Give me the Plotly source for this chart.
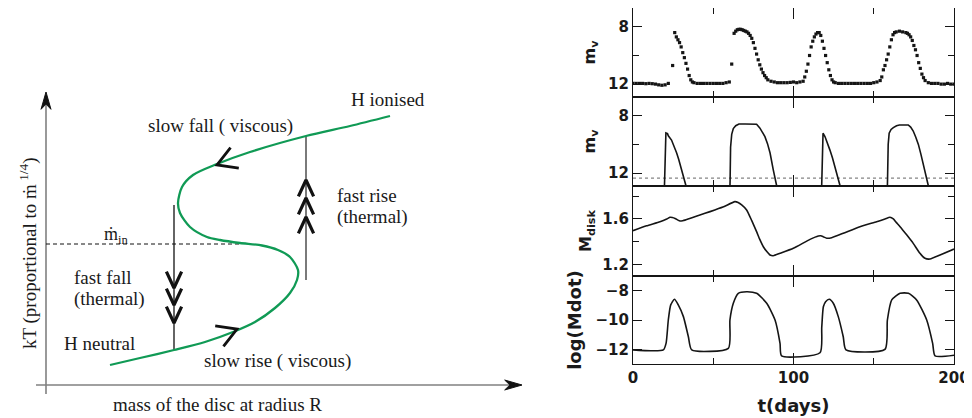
import math
import plotly.graph_objects as go

# ---------------- left schematic (units: arbitrary) ----------------
s_mass = [64, 94, 128, 159, 187, 209, 229, 244, 251, 252, 244, 232, 216, 194, 174, 161,
          144, 134, 132, 136, 147, 171, 204, 260, 304, 344]
s_kT = [20, 27, 35, 43, 53, 63, 77, 92, 105, 115, 128, 135, 139.5, 142, 145, 148,
        158, 172, 182, 198, 210, 221, 233, 249, 259, 269]

min_level_kT = 141
min_line_mass = [0, 194]
fall_mass = 128
fall_kT = [35, 180]
rise_mass = 260
rise_kT = [105, 249]
fall_chevron_kT = [97, 80, 62]
rise_chevron_kT = [205, 187, 168]
# arrows on the S-curve: tip (mass, kT) and pointing direction (deg)
curve_arrow_mass = [171, 191]
curve_arrow_kT = [220, 56]
curve_arrow_dir = [202, 22]
# schematic axes
xaxis_line_mass = [-10, 470]
yaxis_line_kT = [-9, 282]
xaxis_tip_mass = 476
yaxis_tip_kT = 293

# ---------------- right panels: t in days ----------------
obs_t = [0, 2, 4, 6, 8, 10, 12, 14, 16, 18, 20, 22, 24.7, 26, 27, 28, 29, 30, 31, 32, 33, 34,
         35, 36, 37, 38, 40, 42, 44, 46, 48, 50, 52, 54, 56, 58, 60, 61.5, 63, 64, 65, 66,
         67, 68, 69, 70, 71, 72, 73, 74, 75, 76, 77, 78, 79, 80, 81, 82, 83, 84, 86, 88,
         90, 92, 94, 96, 98, 100, 102, 104, 106, 107, 108, 109, 110, 111, 112, 113, 114,
         115, 116, 117, 118, 119, 120, 121, 122, 123, 124, 125, 126, 128, 130, 132, 134,
         136, 138, 140, 142, 144, 146, 148, 150, 152, 154, 155, 156, 157, 158, 159, 160,
         161, 162, 163, 164, 166, 168, 170, 171, 172, 173, 174, 175, 176, 177, 178, 179,
         180, 181, 182, 184, 186, 188, 190, 192, 194, 196, 198, 200]
obs_mv = [11.95, 11.95, 11.95, 11.95, 11.97, 11.95, 11.97, 12.0, 12.05, 12.08, 12.05, 11.95,
          10.7, 8.4, 8.7, 8.9, 9.1, 9.4, 9.8, 10.15, 10.55, 10.95, 11.4, 11.7, 11.85, 11.9,
          11.95, 11.95, 11.95, 11.95, 11.95, 11.95, 11.95, 11.95, 11.95, 11.9, 11.85, 10.6,
          8.45, 8.3, 8.2, 8.17, 8.17, 8.2, 8.25, 8.3, 8.35, 8.45, 8.6, 8.8, 9.1, 9.5, 9.9,
          10.3, 10.65, 10.95, 11.2, 11.4, 11.55, 11.7, 11.8, 11.85, 11.9, 11.9, 11.9, 11.9,
          11.88, 11.85, 11.9, 11.85, 11.8, 11.5, 11.1, 10.6, 10.0, 9.4, 9.0, 8.7, 8.5,
          8.4, 8.4, 8.6, 9.0, 9.5, 10.0, 10.5, 11.0, 11.4, 11.7, 11.85, 11.9, 11.95, 11.95,
          11.95, 11.95, 11.95, 11.95, 11.95, 11.95, 11.95, 11.95, 11.95, 11.9, 11.85,
          11.75, 11.5, 11.0, 10.7, 10.3, 9.9, 9.4, 8.9, 8.55, 8.4, 8.35, 8.3, 8.35, 8.4,
          8.45, 8.55, 8.7, 8.95, 9.3, 9.6, 10.0, 10.5, 10.9, 11.3, 11.55, 11.75, 11.9,
          11.95, 11.95, 11.95, 12.0, 12.0, 11.95, 12.0, 12.0]

model_t = [0, 19.3, 19.7, 20.0, 20.5, 21.5, 22, 24, 26, 27.2, 28.5, 30.3, 31.5, 33, 34,
           60.2, 60.5, 60.8, 61.5, 62.5, 64, 66, 70, 74, 77, 79, 80.5, 82.2, 83.8, 85.4,
           87.4, 89.5, 90.5,
           117.3, 117.7, 118.0, 118.4, 119.6, 121, 122.7, 124.3, 125.9, 127.5, 129, 130,
           158.3, 158.6, 159.0, 159.6, 160.8, 162.2, 164.2, 166, 171.5, 173, 174.6, 176.2,
           177.8, 179.4, 180.9, 182.5, 184, 185, 200]
model_mv = [14, 14, 12.5, 10.0, 9.2, 9.25, 9.4, 9.7, 10.2, 10.6, 11.05, 11.77, 12.25, 12.88, 14,
            14, 12.5, 10.2, 9.3, 8.9, 8.7, 8.58, 8.58, 8.58, 8.6, 8.85, 9.1, 9.46, 9.95, 10.6,
            11.77, 12.88, 14,
            14, 12.3, 10.0, 9.22, 9.45, 9.85, 10.4, 10.95, 11.55, 12.2, 12.88, 14,
            14, 12.4, 10.0, 9.22, 8.96, 8.83, 8.7, 8.65, 8.65, 8.8, 9.07, 9.5,
            10.0, 10.7, 11.4, 12.1, 12.88, 14, 14]
model_dotted_mv = 12.35

disk_t = [0, 8.5, 16.8, 21, 23.1, 24.5, 26.2, 28, 29.3, 31, 32.4, 41.7, 48, 56, 63.5, 65.5,
          67.7, 70.8, 74, 77, 79, 81.2, 83.5, 85.4, 87.4, 91.6, 99.9, 110.3, 115.5, 117,
          118.5, 120.7, 123.8, 131, 141.4, 151.8, 157, 160.1, 162.2, 164, 166.4, 170.5,
          174.6, 178.8, 181.9, 185.1, 191.3, 200]
disk_M = [1.497, 1.54, 1.576, 1.60, 1.615, 1.613, 1.605, 1.59, 1.582, 1.585, 1.59, 1.635,
          1.665, 1.705, 1.753, 1.745, 1.724, 1.68, 1.585, 1.488, 1.42, 1.355, 1.31, 1.282,
          1.276, 1.297, 1.341, 1.42, 1.45, 1.452, 1.444, 1.43, 1.435, 1.474, 1.532, 1.576,
          1.60, 1.615, 1.60, 1.57, 1.532, 1.46, 1.385, 1.297, 1.253, 1.247, 1.282, 1.335]

mdot_t = [0, 18.9, 20.6, 22, 23.5, 25.8, 28.2, 31.4, 34.5, 36.6, 59.4, 60.4, 62.5, 65.6,
          70.8, 77, 83.3, 88.5, 91.6, 92.6, 116.5, 117.6, 118.6, 120, 122.3, 124.8, 127.9,
          131, 132.7, 157, 158.5, 161.2, 166.4, 171.6, 176.7, 183, 186.7, 188.2, 200]
mdot_log = [-12.04, -12.04, -11.59, -10.0, -8.97, -8.59, -8.97, -9.77, -11.14, -12.04,
            -11.93, -10.0, -8.86, -8.18, -8.07, -8.18, -8.86, -10.0, -11.59, -12.45, -12.23,
            -10.5, -9.1, -8.75, -8.59, -8.86, -9.77, -11.14, -12.04, -12.0, -10.0, -8.63,
            -8.18, -8.18, -8.63, -10.0, -11.59, -12.45, -12.4]

t_ticks = [0, 100, 200]
t_minor = [50, 150]

# the page body has an 8 px margin, so the figure is 8 px smaller and offset by 8 px
OFF = 8
W, H = 972 - OFF, 418 - OFF
SERIF = dict(family="Liberation Serif", size=19, color="#1a1a1a")
SANS = "DejaVu Sans"
INK = "#151515"


def fx(px):
    return (px - OFF) / W


def fy(py):
    return 1 - (py - OFF) / H


def chevrons(xs, ys, direction, length, half_angle):
    ox, oy = [], []
    for x, y in zip(xs, ys):
        back = math.radians(direction + 180)
        h = math.radians(half_angle)
        ox += [x + length * math.cos(back + h), x, x + length * math.cos(back - h), None]
        oy += [y + length * math.sin(back + h), y, y + length * math.sin(back - h), None]
    return ox, oy


def barb(x, y, direction, length, half_angle, notch):
    back = math.radians(direction + 180)
    h = math.radians(half_angle)
    d = notch * length * math.cos(h)
    xs = [x, x + length * math.cos(back + h), x + d * math.cos(back), x + length * math.cos(back - h), x]
    ys = [y, y + length * math.sin(back + h), y + d * math.sin(back), y + length * math.sin(back - h), y]
    return xs, ys


fig = go.Figure()
L = dict(xaxis="x5", yaxis="y5", showlegend=False, hoverinfo="skip")

# schematic axes
fig.add_trace(go.Scatter(x=xaxis_line_mass, y=[0, 0], mode="lines", line=dict(color="#808080", width=1.6), **L))
fig.add_trace(go.Scatter(x=[0, 0], y=yaxis_line_kT, mode="lines", line=dict(color="#808080", width=1.6), **L))
ax_x, ax_y = barb(xaxis_tip_mass, 0, 0, 18, 16, 0.7)
fig.add_trace(go.Scatter(x=ax_x, y=ax_y, mode="lines", fill="toself", fillcolor="#111",
                         line=dict(color="#111", width=1), **L))
ay_x, ay_y = barb(0, yaxis_tip_kT, 90, 18, 16, 0.7)
fig.add_trace(go.Scatter(x=ay_x, y=ay_y, mode="lines", fill="toself", fillcolor="#111",
                         line=dict(color="#111", width=1), **L))

# dashed m_in level
fig.add_trace(go.Scatter(x=min_line_mass, y=[min_level_kT] * 2, mode="lines",
                         line=dict(color="#111", width=1, dash="4px,3px"), **L))
# vertical transition lines
fig.add_trace(go.Scatter(x=[fall_mass] * 2, y=fall_kT, mode="lines", line=dict(color="#111", width=1.3), **L))
fig.add_trace(go.Scatter(x=[rise_mass] * 2, y=rise_kT, mode="lines", line=dict(color="#7a7a7a", width=2), **L))
# S-curve
fig.add_trace(go.Scatter(x=s_mass, y=s_kT, mode="lines", line=dict(color="#109a55", width=2.3, shape="spline", smoothing=0.8), **L))
# chevrons
cx, cy = chevrons([fall_mass] * 3, fall_chevron_kT, -90, 18, 25)
fig.add_trace(go.Scatter(x=cx, y=cy, mode="lines", line=dict(color="#111", width=3.2), **L))
cx, cy = chevrons([rise_mass] * 3, rise_chevron_kT, 90, 18, 25)
fig.add_trace(go.Scatter(x=cx, y=cy, mode="lines", line=dict(color="#111", width=3.2), **L))
ax_, ay_ = [], []
for m, k, d in zip(curve_arrow_mass, curve_arrow_kT, curve_arrow_dir):
    xx, yy = chevrons([m], [k], d, 22, 30)
    ax_ += xx
    ay_ += yy
fig.add_trace(go.Scatter(x=ax_, y=ay_, mode="lines", line=dict(color="#111", width=2.8), **L))

# schematic texts
texts = [
    ("H ionised", 342, 286, "center"),
    ("slow fall ( viscous)", 174, 259, "center"),
    ("fast rise", 289, 190, "left"),
    ("(thermal)", 289, 168, "left"),
    ("fast fall", 26, 108, "left"),
    ("(thermal)", 26, 86, "left"),
    ("H neutral", 16, 42, "left"),
    ("slow rise ( viscous)", 231, 24, "center"),
    ("mass of the disc at radius R", 171, -19, "center"),
]
for txt, x, y, anc in texts:
    fig.add_annotation(x=x, y=y, xref="x5", yref="y5", text=txt, showarrow=False,
                       xanchor=anc, yanchor="middle", font=SERIF)
fig.add_annotation(x=70, y=150, xref="x5", yref="y5", text="ṁ<sub>in</sub>", showarrow=False,
                   font=dict(family="Liberation Serif", size=18, color="#1a1a1a"))
fig.add_annotation(x=-18, y=131, xref="x5", yref="y5", text="kT (proportional to ṁ<sup> 1/4</sup>)",
                   textangle=-90, showarrow=False, font=SERIF)

# right panels
R = dict(showlegend=False, hoverinfo="skip")
fig.add_trace(go.Scatter(x=obs_t, y=obs_mv, mode="markers", xaxis="x", yaxis="y",
                         marker=dict(color=INK, size=3.2, symbol="square"), **R))
fig.add_trace(go.Scatter(x=[0, 200], y=[model_dotted_mv] * 2, mode="lines", xaxis="x2", yaxis="y2",
                         line=dict(color="#666", width=1, dash="dot"), **R))
fig.add_trace(go.Scatter(x=model_t, y=model_mv, mode="lines", xaxis="x2", yaxis="y2",
                         line=dict(color=INK, width=1.6), **R))
fig.add_trace(go.Scatter(x=disk_t, y=disk_M, mode="lines", xaxis="x3", yaxis="y3",
                         line=dict(color=INK, width=1.6, shape="spline", smoothing=0.5), **R))
fig.add_trace(go.Scatter(x=mdot_t, y=mdot_log, mode="lines", xaxis="x4", yaxis="y4",
                         line=dict(color=INK, width=1.6, shape="spline", smoothing=0.6), **R))

xd = [fx(633), fx(954)]
tickfont = dict(family=SANS, size=15, color="#1a1a1a", weight="bold")
frame = dict(showgrid=False, zeroline=False, showline=True, linecolor=INK, linewidth=1.3,
             mirror="allticks", ticks="inside", tickcolor=INK, tickwidth=1.3, automargin=False)


def xax(anchor, labels):
    d = dict(frame, domain=xd, range=[0, 200], anchor=anchor, tickvals=t_ticks, ticklen=11,
             showticklabels=labels, tickfont=tickfont,
             minor=dict(tickvals=t_minor, ticks="inside", ticklen=6, tickcolor=INK, tickwidth=1.3))
    if labels:
        d["title"] = dict(text="t(days)", font=dict(family=SANS, size=18, color="#1a1a1a", weight="bold"), standoff=13)
    return d


def yax(anchor, dom, rng, vals, minor_vals, title, tsize, standoff):
    return dict(frame, domain=dom, range=rng, anchor=anchor, tickvals=vals,
                ticktext=[str(v).replace("-", "−") for v in vals], ticklen=9, tickfont=tickfont,
                minor=dict(tickvals=minor_vals, ticks="inside", ticklen=6, tickcolor=INK, tickwidth=1.3),
                title=dict(text=title, font=dict(family=SANS, size=tsize, color="#1a1a1a", weight="bold"),
                           standoff=standoff))


fig.update_layout(
    width=W, height=H, margin=dict(l=0, r=0, t=0, b=0, pad=0, autoexpand=False),
    paper_bgcolor="white", plot_bgcolor="white", showlegend=False,
    xaxis=xax("y", False), xaxis2=xax("y2", False), xaxis3=xax("y3", False), xaxis4=xax("y4", True),
    yaxis=yax("x", [fy(97), fy(8)], [12.9, 6.68], [8, 12], [10], "m<sub>v</sub>", 16, 8),
    yaxis2=yax("x2", [fy(186), fy(97)], [12.9, 6.7], [8, 12], [10], "m<sub>v</sub>", 16, 8),
    yaxis3=yax("x3", [fy(276), fy(186)], [1.097, 1.891], [1.2, 1.6], [1.4, 1.8], "M<sub>disk</sub>", 16, 6),
    yaxis4=yax("x4", [fy(364), fy(276)], [-13.0, -7.0], [-8, -10, -12], [], "log(Mdot)", 18, 9),
    xaxis5=dict(domain=[0, fx(540)], range=[8 - 46, 540 - 46], visible=False, anchor="y5", automargin=False),
    yaxis5=dict(domain=[0, 1], range=[385 - 418, 385 - 8], visible=False, anchor="x5", automargin=False),
)

fig.write_html("out.html")
